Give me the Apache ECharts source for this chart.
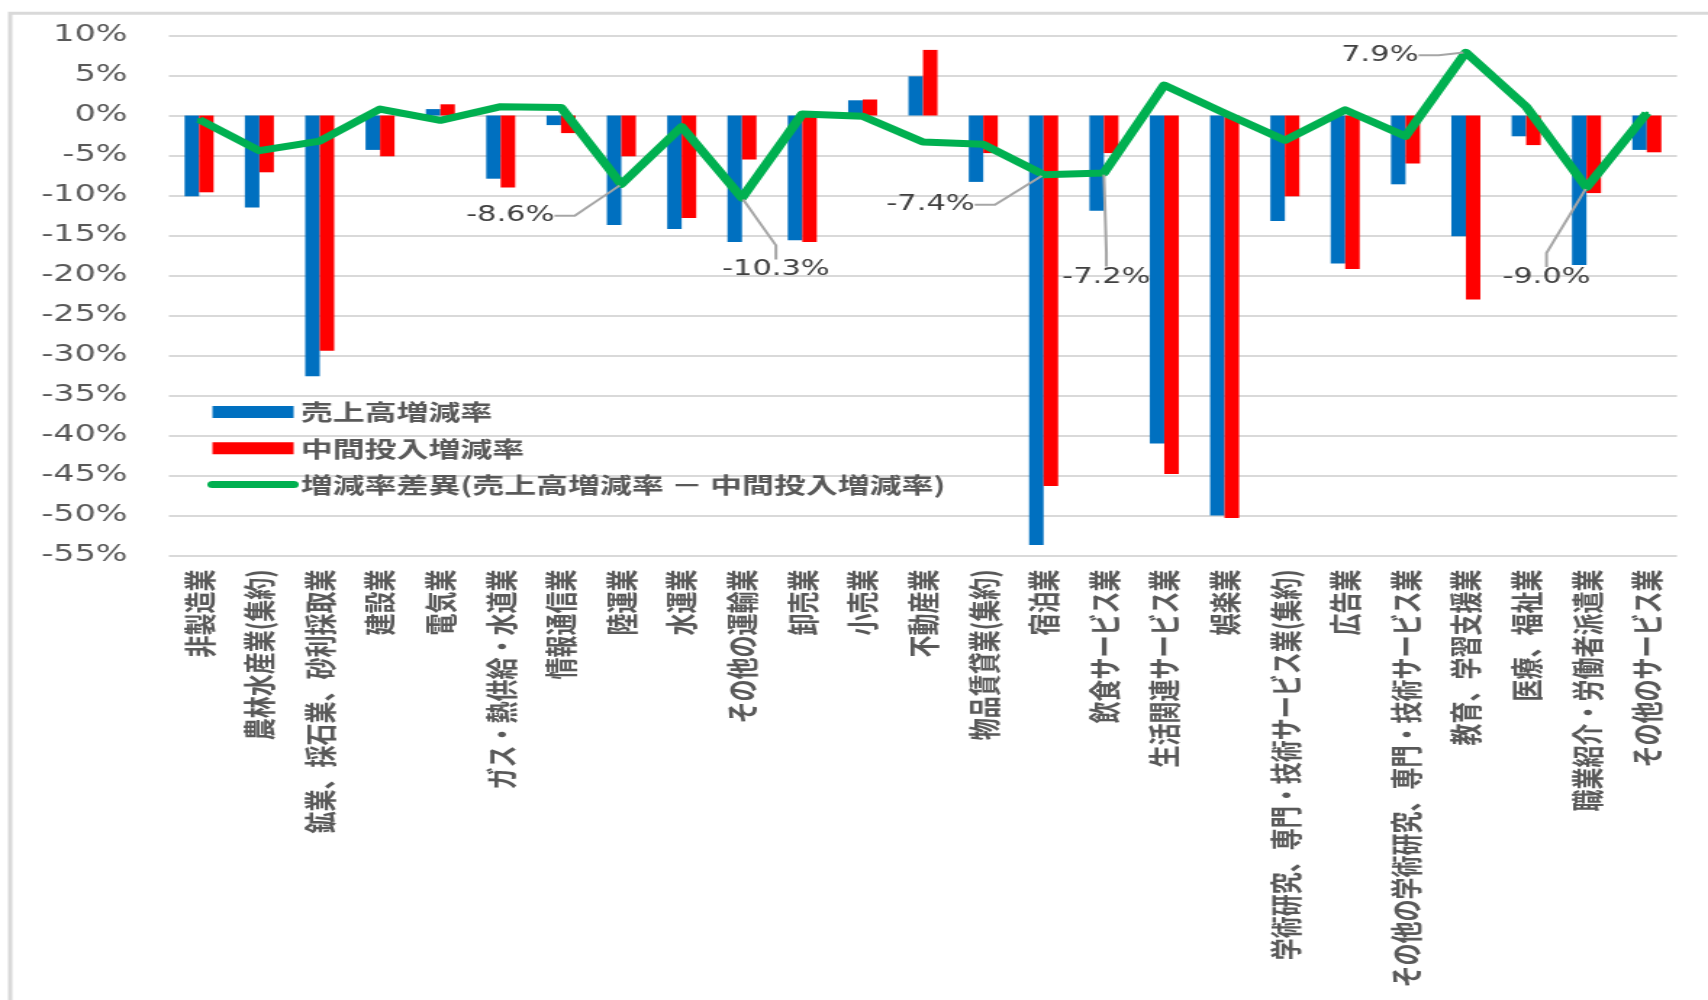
<!DOCTYPE html>
<html>
<head>
<meta charset="utf-8">
<script src="https://cdn.jsdelivr.net/npm/echarts@6.0.0/dist/echarts.min.js"></script>
<style>
  html, body { margin: 0; padding: 0; background: #ffffff; overflow: hidden; }
  #wrap { width: 1708px; height: 1000px; overflow: hidden; position: relative; }
  /* the chart is laid out narrow and widened horizontally */
  #chart { width: 1178px; height: 1000px; transform-origin: 0 0; transform: scaleX(1.44992); }
</style>
</head>
<body>
<div id="wrap"><div id="chart"></div></div>
<script>
// 業種
const categories = [
  '非製造業',
  '農林水産業(集約)',
  '鉱業、採石業、砂利採取業',
  '建設業',
  '電気業',
  'ガス・熱供給・水道業',
  '情報通信業',
  '陸運業',
  '水運業',
  'その他の運輸業',
  '卸売業',
  '小売業',
  '不動産業',
  '物品賃貸業(集約)',
  '宿泊業',
  '飲食サービス業',
  '生活関連サービス業',
  '娯楽業',
  '学術研究、専門・技術サービス業(集約)',
  '広告業',
  'その他の学術研究、専門・技術サービス業',
  '教育、学習支援業',
  '医療、福祉業',
  '職業紹介・労働者派遣業',
  'その他のサービス業'
];

// 売上高増減率 (%)
const salesRate = [
  -10.1, -11.5, -32.6, -4.3, 0.8, -7.9, -1.2, -13.7, -14.2, -15.8,
  -15.6, 1.9, 4.9, -8.3, -53.7, -11.9, -41.0, -50.0, -13.2, -18.5,
  -8.6, -15.1, -2.6, -18.7, -4.3
];

// 中間投入増減率 (%)
const inputRate = [
  -9.6, -7.1, -29.4, -5.1, 1.4, -9.0, -2.2, -5.1, -12.8, -5.5,
  -15.8, 2.0, 8.2, -4.7, -46.3, -4.7, -44.8, -50.3, -10.1, -19.2,
  -6.0, -23.0, -3.7, -9.7, -4.6
];

// 増減率差異 (%)
const rateGap = [
  -0.5, -4.4, -3.2, 0.8, -0.6, 1.1, 1.0, -8.6, -1.4, -10.3,
  0.2, -0.1, -3.3, -3.6, -7.4, -7.2, 3.8, 0.3, -3.1, 0.7,
  -2.6, 7.9, 1.1, -9.0, 0.3
];

// 数値ラベルを付ける業種の番号
const gapLabelled = [7, 9, 14, 15, 21, 23];

// 縦軸の目盛
const yMin = -55;
const yMax = 10;
const yStep = 5;

const seriesNames = [
  '売上高増減率',
  '中間投入増減率',
  '増減率差異(売上高増減率 － 中間投入増減率)'
];

// callout offsets of the value labels, relative to their point
const gapLabelOffset = {
  7: [-76.6, 31.5],
  9: [23.4, 72],
  14: [-78, 30],
  15: [1.7, 104],
  21: [-59.3, 3],
  23: [-27.6, 90]
};

const textColor = '#595959';
const cjkFont = "'Noto Sans CJK JP', sans-serif";
const numFont = "'DejaVu Sans', sans-serif";

const chart = echarts.init(document.getElementById('chart'), null, { renderer: 'canvas' });

chart.setOption({
  animation: false,
  backgroundColor: '#ffffff',
  graphic: [{
    type: 'rect',
    silent: true,
    z: -10,
    shape: { x: 7, y: 13.3, width: 1400, height: 1300 },
    style: { fill: 'none', stroke: '#d9d9d9', lineWidth: 3 }
  }],
  grid: {
    left: 116.5,
    right: 21.4,
    top: 35.5,
    bottom: 444.5,
    containLabel: false,
    outerBoundsMode: 'none'
  },
  legend: {
    orient: 'vertical',
    left: 138,
    top: 395,
    itemWidth: 56,
    itemHeight: 12,
    itemGap: 12.3,
    selectedMode: false,
    textStyle: {
      fontFamily: cjkFont,
      fontSize: 22,
      lineHeight: 24,
      fontWeight: 'bold',
      color: textColor
    },
    data: [
      { name: seriesNames[0], icon: 'rect' },
      { name: seriesNames[1], icon: 'rect' },
      { name: seriesNames[2], itemStyle: { opacity: 0 }, lineStyle: { width: 7, cap: 'round', color: '#00b050' } }
    ]
  },
  xAxis: {
    type: 'category',
    data: categories,
    position: 'bottom',
    axisLine: { show: false, onZero: false },
    axisTick: { show: false },
    splitLine: { show: false },
    axisLabel: {
      interval: 0,
      rotate: 90,
      margin: 14,
      fontFamily: cjkFont,
      fontSize: 22,
      fontWeight: 'bold',
      color: textColor
    }
  },
  yAxis: {
    type: 'value',
    min: yMin,
    max: yMax,
    interval: yStep,
    axisLine: { show: false },
    axisTick: { show: false },
    splitLine: { lineStyle: { color: '#d9d9d9', width: 2 } },
    axisLabel: {
      formatter: '{value}%',
      margin: 28.6,
      fontFamily: numFont,
      fontSize: 23,
      color: textColor
    }
  },
  series: [
    {
      name: seriesNames[0],
      type: 'bar',
      data: salesRate,
      barWidth: 10,
      barGap: '0%',
      itemStyle: { color: '#0070c0' }
    },
    {
      name: seriesNames[1],
      type: 'bar',
      data: inputRate,
      barWidth: 10,
      barGap: '0%',
      itemStyle: { color: '#ff0000' }
    },
    {
      name: seriesNames[2],
      type: 'line',
      z: 3,
      data: rateGap.map((v, i) => ({ value: v, label: { show: gapLabelled.includes(i) } })),
      symbol: 'circle',
      symbolSize: 3,
      showSymbol: true,
      itemStyle: { color: '#00b050' },
      lineStyle: { color: '#00b050', width: 7, join: 'round' },
      label: {
        show: false,
        position: 'inside',
        formatter: (p) => p.value.toFixed(1) + '%',
        fontFamily: numFont,
        fontSize: 21,
        color: '#404040'
      },
      labelLine: {
        show: true,
        length2: 14,
        lineStyle: { color: '#a6a6a6', width: 2 }
      },
      labelLayout: (p) => {
        const o = gapLabelOffset[p.dataIndex];
        return o ? { dx: o[0], dy: o[1] } : {};
      }
    }
  ]
});
</script>
</body>
</html>
